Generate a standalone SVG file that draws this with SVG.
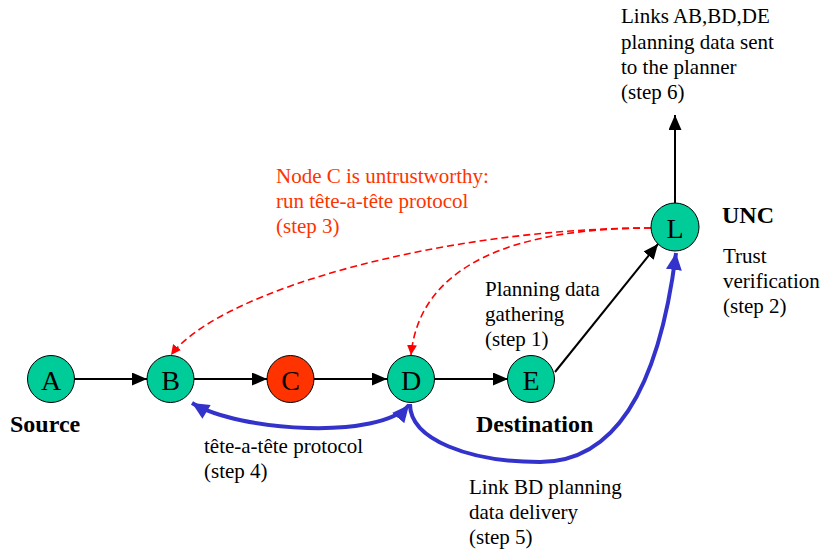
<svg xmlns="http://www.w3.org/2000/svg" width="823" height="552" viewBox="0 0 823 552">
  <style>
    text { font-family: "Liberation Serif", "Times New Roman", serif; font-size: 21px; fill: #000; }
    .bold { font-weight: bold; font-size: 24px; }
    .warn { fill: #FF3300; }
    .node circle { fill: #00CC99; stroke: #000; stroke-width: 1; }
    .node.bad circle { fill: #FF3300; }
    .node text { font-size: 28px; text-anchor: middle; }
    .flow { fill: none; stroke: #000; stroke-width: 2; marker-end: url(#headBlack); }
    .alert { fill: none; stroke: #FF0000; stroke-width: 1.6; stroke-dasharray: 7 4; marker-end: url(#headRed); }
    .talk { fill: none; stroke: #3333CC; stroke-width: 4; }
  </style>
  <defs>
    <marker id="headBlack" markerUnits="userSpaceOnUse" markerWidth="16" markerHeight="13" refX="15" refY="6.5" orient="auto">
      <path d="M0,0 L15,6.5 L0,13 z" fill="#000"/>
    </marker>
    <marker id="headRed" markerUnits="userSpaceOnUse" markerWidth="11" markerHeight="10" refX="10" refY="5" orient="auto">
      <path d="M0,0 L10,5 L0,10 z" fill="#FF0000"/>
    </marker>
    <marker id="headBlue" markerUnits="userSpaceOnUse" markerWidth="18" markerHeight="16" refX="17" refY="8" orient="auto">
      <path d="M0,0 L17,8 L0,16 z" fill="#3333CC"/>
    </marker>
    <marker id="headBlueStart" markerUnits="userSpaceOnUse" markerWidth="18" markerHeight="16" refX="0" refY="8" orient="auto">
      <path d="M17,0 L0,8 L17,16 z" fill="#3333CC"/>
    </marker>
  </defs>

  <!-- connectors -->
  <g id="connectors">
    <line class="flow" x1="74" y1="379" x2="147" y2="379"/>
    <line class="flow" x1="194" y1="379" x2="267" y2="379"/>
    <line class="flow" x1="314" y1="379" x2="387" y2="379"/>
    <line class="flow" x1="435" y1="379" x2="508" y2="379"/>
    <line class="flow" x1="555" y1="372" x2="658" y2="244"/>
    <line class="flow" x1="675" y1="203" x2="675" y2="115"/>

    <path class="alert" d="M651,228 C450,228 222,288 171,355"/>
    <path class="alert" d="M651,228 C520,228 420,262 411,355"/>

    <path class="talk" d="M192,403 C240,432 380,440 409,405" marker-start="url(#headBlueStart)" marker-end="url(#headBlue)"/>
    <path class="talk" d="M410,404 C410,440 470,462 540,462 C620,462 660,380 676,253" marker-end="url(#headBlue)"/>
  </g>

  <!-- nodes -->
  <g id="node-A" class="node">
    <circle cx="51" cy="379" r="23.5"/>
    <text x="51" y="390">A</text>
  </g>
  <g id="node-B" class="node">
    <circle cx="170.5" cy="379" r="23.5"/>
    <text x="170.5" y="390">B</text>
  </g>
  <g id="node-C" class="node bad">
    <circle cx="290.5" cy="379" r="23.5"/>
    <text x="290.5" y="390">C</text>
  </g>
  <g id="node-D" class="node">
    <circle cx="411" cy="379" r="23.5"/>
    <text x="411" y="390">D</text>
  </g>
  <g id="node-E" class="node">
    <circle cx="531" cy="379" r="23.5"/>
    <text x="531" y="390">E</text>
  </g>
  <g id="node-L" class="node">
    <circle cx="675" cy="227" r="24"/>
    <text x="675" y="238">L</text>
  </g>

  <!-- labels -->
  <g id="labels">
    <text class="bold" x="10" y="432">Source</text>
    <text class="bold" x="476" y="432">Destination</text>
    <text class="bold" x="722" y="223">UNC</text>

    <text x="723" y="263">Trust</text>
    <text x="723" y="288">verification</text>
    <text x="723" y="313">(step 2)</text>

    <text x="485" y="296">Planning data</text>
    <text x="485" y="321">gathering</text>
    <text x="485" y="346">(step 1)</text>

    <text class="warn" x="276" y="183">Node C is untrustworthy:</text>
    <text class="warn" x="276" y="208">run tête-a-tête protocol</text>
    <text class="warn" x="276" y="233">(step 3)</text>

    <text x="204" y="453">tête-a-tête protocol</text>
    <text x="204" y="478">(step 4)</text>

    <text x="469" y="494">Link BD planning</text>
    <text x="469" y="519">data delivery</text>
    <text x="469" y="544">(step 5)</text>

    <text x="621" y="23">Links AB,BD,DE</text>
    <text x="621" y="49">planning data sent</text>
    <text x="621" y="74">to the planner</text>
    <text x="621" y="99">(step 6)</text>
  </g>
</svg>
